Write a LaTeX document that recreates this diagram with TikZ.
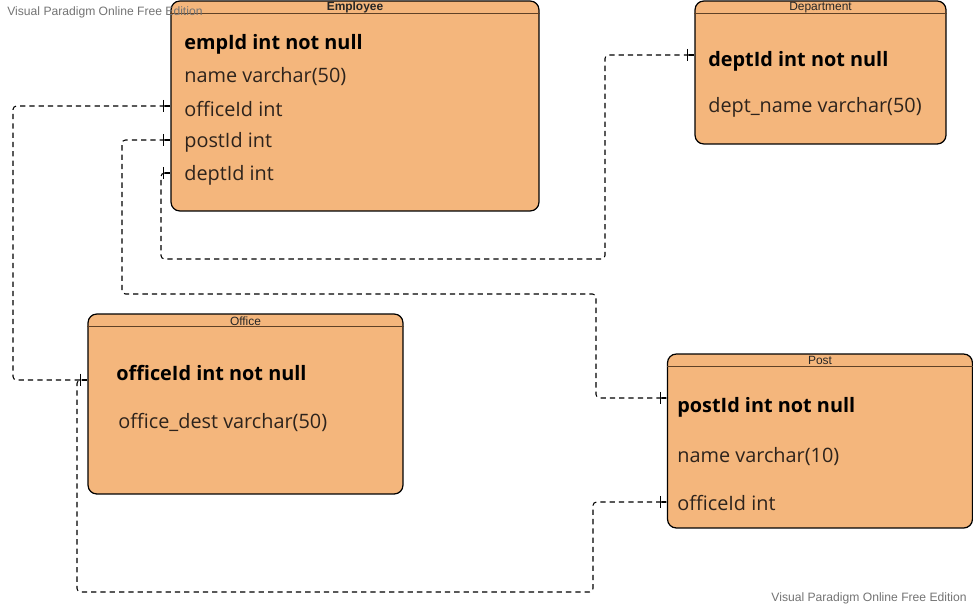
\documentclass[tikz,border=0pt]{standalone}
\usepackage{fontspec}
\setmainfont{Open Sans}
\newfontfamily\headfont{Liberation Sans}
\usepackage{tikz}
\usetikzlibrary{arrows.meta}
\definecolor{entfill}{RGB}{244,182,124}
\definecolor{headline}{RGB}{95,65,38}
\definecolor{attrtext}{RGB}{45,35,28}
\tikzstyle{entity} = [rectangle, rounded corners=5pt, draw=black, line width=0.7pt, fill=entfill]
\tikzstyle{headtext} = [inner sep=0pt, text=black!85, font=\headfont\fontsize{6.8}{8}\selectfont]
\tikzstyle{keyattr} = [anchor=west, inner sep=0pt, yshift=-1.2pt, text=black, font=\bfseries\fontsize{11.3}{13}\selectfont]
\tikzstyle{attr} = [anchor=west, inner sep=0pt, yshift=-1.2pt, text=attrtext, font=\fontsize{11.3}{13}\selectfont]
\tikzstyle{fk} = [dash pattern=on 3pt off 2.3pt, line width=0.6pt, rounded corners=2pt, {Rectangle[length=3.4pt,width=0.6pt]Bar[width=7pt]}-{Bar[width=7pt]Rectangle[length=3.4pt,width=0.6pt]}]
\tikzstyle{watermark} = [inner sep=0pt, text=black!55, font=\headfont\fontsize{6.9}{8}\selectfont]

\begin{document}
\begin{tikzpicture}[x=0.02cm, y=-0.02cm]
    \useasboundingbox (0,0) rectangle (973,608);
    \node (emp) [entity, minimum width=7.36cm, minimum height=4.2cm] at (355,106) {};
    \node (dep) [entity, minimum width=5.02cm, minimum height=2.86cm] at (820.5,72.5) {};
    \node (off) [entity, minimum width=6.3cm, minimum height=3.6cm] at (245.5,404) {};
    \node (post) [entity, minimum width=6.1cm, minimum height=3.48cm] at (820,441) {};
    \foreach \e in {emp, dep, off, post}
        \draw [headline, line width=0.9pt] ([yshift=-0.26cm]\e.north west) -- ([yshift=-0.26cm]\e.north east);
    \node (emp-title) [headtext, font=\headfont\bfseries\fontsize{6.8}{8}\selectfont] at ([yshift=-0.15cm]emp.north) {Employee};
    \node (dep-title) [headtext] at ([yshift=-0.15cm]dep.north) {Department};
    \node (off-title) [headtext] at ([yshift=-0.15cm]off.north) {Office};
    \node (post-title) [headtext] at ([yshift=-0.15cm]post.north) {Post};

    \node (emp-id) [keyattr] at (184,42) {empId int not null};
    \node (emp-name) [attr] at (184,74) {name varchar(50)};
    \node (emp-office) [attr] at (184,107) {officeId int};
    \node (emp-post) [attr] at (184,140) {postId int};
    \node (emp-dept) [attr] at (184,173) {deptId int};

    \node (dep-id) [keyattr] at (708,59) {deptId int not null};
    \node (dep-name) [attr] at (708,105) {dept\_name varchar(50)};

    \node (off-id) [keyattr] at (116,371) {officeId int not null};
    \node (off-dest) [attr] at (118,420) {office\_dest varchar(50)};

    \node (post-id) [keyattr] at (677,405) {postId int not null};
    \node (post-name) [attr] at (677,454) {name varchar(10)};
    \node (post-office) [attr] at (677,501) {officeId int};

    \draw [fk] (emp.west |- 0,106) -- (13,106) -- (13,380) -- (off.west |- 0,380);
    \draw [fk] (emp.west |- 0,140) -- (122,140) -- (122,294) -- (596,294) -- (596,398) -- (post.west |- 0,398);
    \draw [fk] (emp.west |- 0,173) -- (161,173) -- (161,259) -- (605,259) -- (605,55) -- (dep.west |- 0,55);
    \draw [fk] (post.west |- 0,502) -- (593,502) -- (593,592) -- (77,592) -- (77,380) -- (off.west |- 0,380);

    \node (wm-top) [watermark, anchor=west] at (7,12) {Visual Paradigm Online Free Edition};
    \node (wm-bottom) [watermark, anchor=east] at (967,598) {Visual Paradigm Online Free Edition};
\end{tikzpicture}
\end{document}
